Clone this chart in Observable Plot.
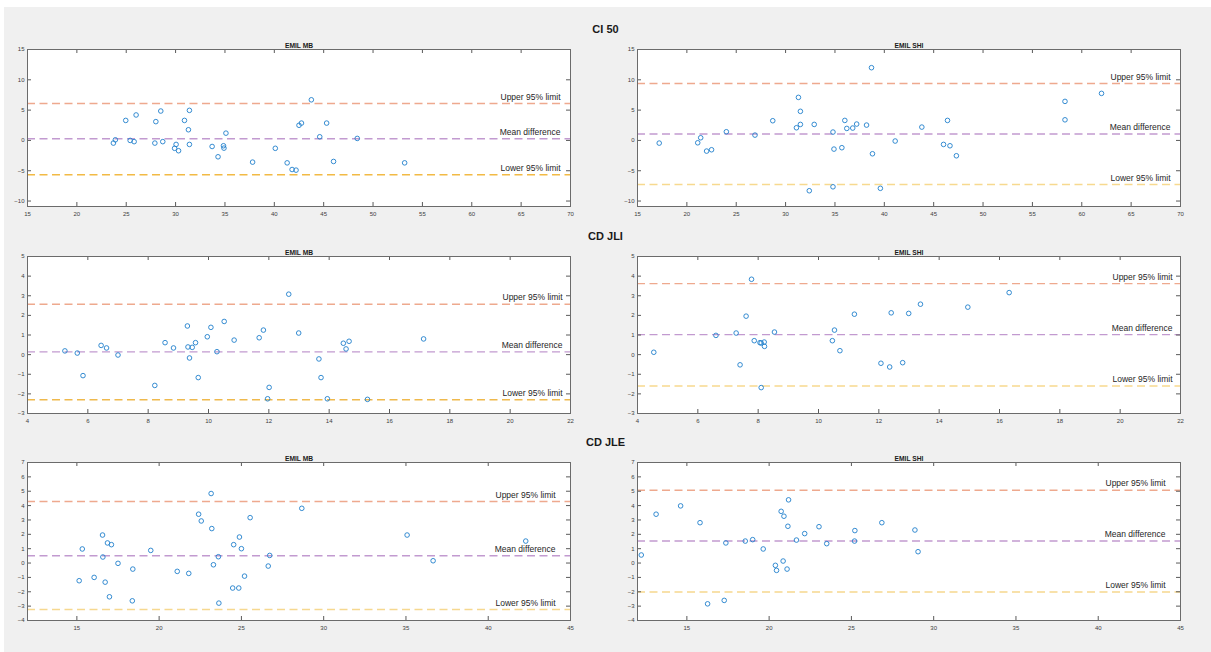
<!DOCTYPE html>
<html><head><meta charset="utf-8">
<script src="https://cdn.jsdelivr.net/npm/d3@7"></script>
<script src="https://cdn.jsdelivr.net/npm/@observablehq/plot@0.6"></script>
<style>
body{margin:0;background:#fff;font-family:"Liberation Sans",Arial,sans-serif;}
#fig{position:absolute;left:4px;top:7px;width:1207px;height:645px;background:#f0f0f0;}
.panel{position:absolute;}
.rowtitle{position:absolute;left:0;width:1211px;text-align:center;font-weight:bold;font-size:11px;line-height:11px;color:#1a1a1a;}
</style></head><body>
<div id="fig"></div>
<script>
// ---- labels ----
const rowTitles = ["CI 50", "CD JLI", "CD JLE"];
const colTitles = ["EMIL MB", "EMIL SHI"];
const lineLabels = ["Upper 95% limit", "Mean difference", "Lower 95% limit"];

// ---- axes ----
const xTicks1 = [15,20,25,30,35,40,45,50,55,60,65,70];
const yTicks1 = [-10,-5,0,5,10,15];
const xTicks2 = [4,6,8,10,12,14,16,18,20,22];
const yTicks2 = [-3,-2,-1,0,1,2,3,4,5];
const xTicks3 = [15,20,25,30,35,40,45];
const yTicks3 = [-4,-3,-2,-1,0,1,2,3,4,5,6,7];
const xDomain1 = [15,70], yDomain1 = [-10.9,15];
const xDomain2 = [4,22],  yDomain2 = [-3,5];
const xDomain3 = [12,45], yDomain3 = [-4,7];

// ---- CI 50, EMIL MB ----
const ci50MbMean = [23.7,23.9,24.95,25.4,25.8,26.0,27.9,28.0,28.5,28.7,29.9,30.05,30.3,30.9,31.3,31.4,31.4,33.7,34.3,34.85,34.9,35.1,37.8,40.1,41.3,41.8,42.2,42.5,42.75,43.75,44.6,45.3,46.0,48.4,53.2];
const ci50MbDiff = [-0.44,0.1,3.3,0,-0.2,4.2,-0.44,3.1,4.85,-0.2,-1.3,-0.66,-1.7,3.3,1.76,4.96,-0.66,-1.0,-2.7,-0.88,-1.27,1.2,-3.58,-1.3,-3.7,-4.8,-4.9,2.5,2.86,6.7,0.6,2.86,-3.47,0.33,-3.7];
const ci50MbLimits = [6.1, 0.27, -5.67];

// ---- CI 50, EMIL SHI ----
const ci50ShiMean = [17.2,21.1,21.4,22.0,22.5,24.0,26.9,28.7,31.1,31.3,31.5,31.5,32.9,32.4,34.8,34.9,34.8,35.7,36.0,36.2,36.8,37.2,38.2,38.7,38.8,39.6,41.1,43.8,46.0,46.4,46.65,47.3,58.3,58.3,62.0];
const ci50ShiDiff = [-0.44,-0.39,0.44,-1.76,-1.54,1.43,0.88,3.25,2.09,7.1,4.8,2.64,2.64,-8.3,1.38,-1.43,-7.65,-1.2,3.3,1.98,2.04,2.7,2.53,12.0,-2.2,-7.9,-0.1,2.2,-0.66,3.3,-0.88,-2.53,6.44,3.4,7.76];
const ci50ShiLimits = [9.4, 1.05, -7.27];

// ---- CD JLI, EMIL MB ----
const jliMbMean = [5.24,5.65,5.84,6.44,6.62,7.0,8.22,8.56,8.84,9.3,9.32,9.37,9.46,9.57,9.66,9.96,10.08,10.28,10.52,10.85,11.68,11.82,11.96,12.01,12.66,12.99,13.66,13.73,13.94,14.47,14.56,14.66,15.27,17.13];
const jliMbDiff = [0.19,0.08,-1.07,0.47,0.34,-0.02,-1.57,0.61,0.34,1.46,0.39,-0.17,0.37,0.61,-1.17,0.91,1.39,0.15,1.69,0.74,0.86,1.25,-2.25,-1.67,3.08,1.1,-0.22,-1.17,-2.25,0.58,0.29,0.68,-2.28,0.8];
const jliMbLimits = [2.57, 0.14, -2.3];

// ---- CD JLI, EMIL SHI ----
const jliShiMean = [4.54,6.6,7.27,7.4,7.6,7.78,7.87,8.06,8.1,8.2,8.21,8.1,8.54,10.46,10.53,10.71,11.19,12.07,12.36,12.41,12.79,12.99,13.38,14.95,16.32];
const jliShiDiff = [0.12,0.98,1.1,-0.52,1.96,3.84,0.71,0.61,0.59,0.64,0.42,-1.68,1.15,0.71,1.25,0.2,2.06,-0.44,-0.63,2.13,-0.41,2.1,2.57,2.42,3.16];
const jliShiLimits = [3.62, 1.02, -1.6];

// ---- CD JLE, EMIL MB ----
const jleMbMean = [15.14,15.33,16.05,16.56,16.58,16.72,16.86,16.98,17.1,17.5,18.37,18.4,19.49,21.1,21.8,22.4,22.56,23.16,23.2,23.3,23.6,23.63,24.47,24.53,24.84,24.88,25.0,25.19,25.53,26.63,26.72,28.67,35.07,36.65,42.28];
const jleMbDiff = [-1.23,0.98,-1.0,1.95,0.42,-1.33,1.4,-2.35,1.28,-0.02,-2.63,-0.42,0.88,-0.58,-0.72,3.4,2.93,4.84,2.4,-0.12,0.44,-2.79,-1.74,1.28,-1.74,1.81,1.0,-0.91,3.16,-0.21,0.53,3.81,1.95,0.16,1.53];
const jleMbLimits = [4.28, 0.51, -3.23];

// ---- CD JLE, EMIL SHI ----
const jleShiMean = [12.23,13.13,14.62,15.8,16.26,17.27,17.37,18.55,19.0,19.64,20.38,20.45,20.73,20.85,20.9,21.09,21.14,21.18,21.66,22.16,23.03,23.5,25.21,25.19,26.85,28.86,29.05];
const jleShiDiff = [0.56,3.4,3.98,2.81,-2.84,-2.6,1.4,1.53,1.63,0.98,-0.16,-0.51,3.6,0.14,3.26,-0.42,2.56,4.4,1.6,2.05,2.53,1.35,2.26,1.53,2.81,2.3,0.79];
const jleShiLimits = [5.07, 1.53, -2.02];

const upperColor = "#EEA98E", meanColor = "#C29AD0";
const lowerColors = ["#F2BA45", "#F7D98F", "#EFB94C", "#F7D98F", "#F6D88F", "#F6D88F"];

const panels = [
  {row:0,col:0,xs:ci50MbMean,ys:ci50MbDiff,lim:ci50MbLimits,xd:xDomain1,yd:yDomain1,xt:xTicks1,yt:yTicks1},
  {row:0,col:1,xs:ci50ShiMean,ys:ci50ShiDiff,lim:ci50ShiLimits,xd:xDomain1,yd:yDomain1,xt:xTicks1,yt:yTicks1},
  {row:1,col:0,xs:jliMbMean,ys:jliMbDiff,lim:jliMbLimits,xd:xDomain2,yd:yDomain2,xt:xTicks2,yt:yTicks2},
  {row:1,col:1,xs:jliShiMean,ys:jliShiDiff,lim:jliShiLimits,xd:xDomain2,yd:yDomain2,xt:xTicks2,yt:yTicks2},
  {row:2,col:0,xs:jleMbMean,ys:jleMbDiff,lim:jleMbLimits,xd:xDomain3,yd:yDomain3,xt:xTicks3,yt:yTicks3},
  {row:2,col:1,xs:jleShiMean,ys:jleShiDiff,lim:jleShiLimits,xd:xDomain3,yd:yDomain3,xt:xTicks3,yt:yTicks3}
];

// layout
const rowTop = [49, 256, 462];
const rowInnerH = [157, 157, 158];
const rowTitleTop = [24, 231, 437];
const colLeft = [27, 637];
const textDx = [-10, -8, -15];
const W = 543, ML = 27, MR = 6, MT = 14, MB = 16;

rowTitles.forEach((t, i) => {
  const d = document.createElement("div");
  d.className = "rowtitle";
  d.style.top = rowTitleTop[i] + "px";
  d.textContent = t;
  document.body.appendChild(d);
});

panels.forEach((p, idx) => {
  const H = rowInnerH[p.row];
  const data = p.xs.map((x, i) => ({x, y: p.ys[i]}));
  const colors = [upperColor, meanColor, lowerColors[idx]];
  const lineMarks = p.lim.map((v, i) =>
    Plot.ruleY([v], {y: d => d, stroke: colors[i], strokeWidth: 1.4, strokeDasharray: "8,4.5"}));
  const lines = p.lim.map((v, i) => ({v, label: lineLabels[i]}));
  const axisColor = "#5a5a5a";
  const chart = Plot.plot({
    width: ML + W + MR, height: MT + H + MB,
    marginLeft: ML, marginRight: MR, marginTop: MT, marginBottom: MB,
    x: {domain: p.xd, label: null}, y: {domain: p.yd, label: null},
    style: {background: "transparent", fontFamily: "'Liberation Sans', Arial, sans-serif", overflow: "visible"},
    marks: [
      Plot.frame({fill: "white"}),
      ...lineMarks,
      Plot.dot(data, {x: "x", y: "y", r: 2.3, stroke: "#1f7fcc", strokeWidth: 0.9}),
      Plot.text(lines, {x: () => p.xd[1], y: "v", text: "label", textAnchor: "end", dx: textDx[p.row], dy: -6.5, fontSize: 8.5, fill: "#262626"}),
      Plot.tickY(p.yt, {y: d => d, insetRight: W - 4, stroke: axisColor}),
      Plot.tickY(p.yt, {y: d => d, insetLeft: W - 4, stroke: axisColor}),
      Plot.tickX(p.xt, {x: d => d, insetBottom: H - 4, stroke: axisColor}),
      Plot.tickX(p.xt, {x: d => d, insetTop: H - 4, stroke: axisColor}),
      Plot.axisX(p.xt, {tickSize: 0, tickPadding: 5, fontSize: 6, fill: "#404040", label: null}),
      Plot.axisY(p.yt, {tickSize: 0, tickPadding: 3, fontSize: 6, fill: "#404040", label: null}),
      Plot.frame({stroke: "#6b6b6b"}),
      Plot.text([colTitles[p.col]], {frameAnchor: "top", dy: -6.6, fontWeight: "bold", fontSize: 6.7, fill: "#1a1a1a"})
    ]
  });
  chart.classList.add("panel");
  chart.style.left = (colLeft[p.col] - ML) + "px";
  chart.style.top = (rowTop[p.row] - MT) + "px";
  document.body.appendChild(chart);
});
</script>
</body></html>
